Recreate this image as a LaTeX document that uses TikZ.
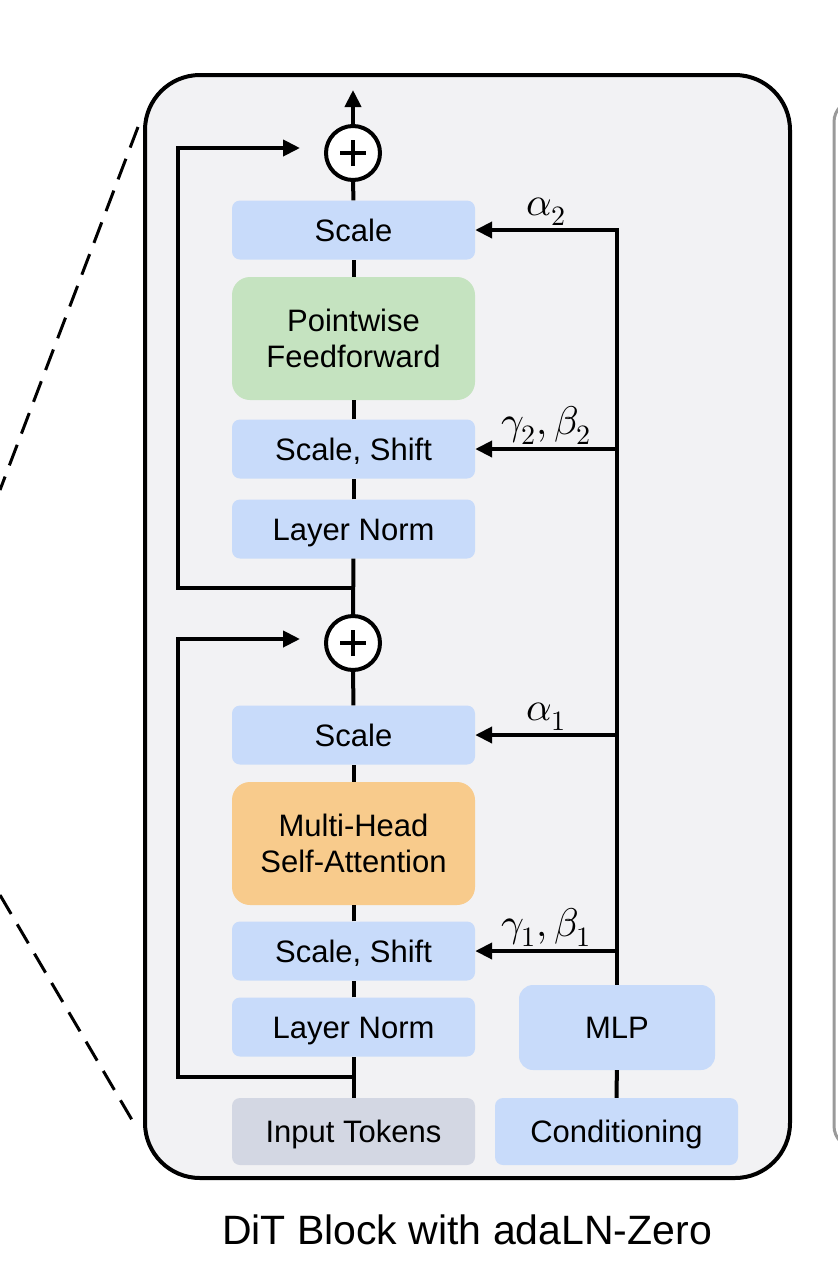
\documentclass[tikz,border=0pt]{standalone}
\usepackage{fontspec}
\usepackage{unicode-math}
\setmainfont{Liberation Sans}
\setmathfont{Latin Modern Math}
\usetikzlibrary{arrows.meta}
\definecolor{normblue}{HTML}{C8DBFA}
\definecolor{ffgreen}{HTML}{C5E3C0}
\definecolor{attnorange}{HTML}{F8CB8C}
\definecolor{tokgray}{HTML}{D3D7E3}
\definecolor{panel}{HTML}{F2F2F4}
\definecolor{edgegray}{HTML}{9A9A9A}
\begin{document}
\begin{tikzpicture}[x=1pt,y=-1pt,
    base/.style={fill=normblue,rounded corners=8pt,minimum width=243pt,minimum height=59pt,
      inner sep=0pt,align=center,font=\fontsize{31}{36}\selectfont},
    box/.style={base,text height=22pt,text depth=0pt},
    bigbox/.style={base,rounded corners=18pt,minimum height=123pt},
    wire/.style={line width=4pt},
    tip/.style={-{Triangle[length=17pt,width=16pt]}},
    lbl/.style={above,inner sep=3pt,font=\fontsize{40}{44}\selectfont},
    sum/.style={circle,draw,line width=4pt,fill=white,minimum size=54pt,inner sep=0pt,
      path picture={\draw[line width=4pt]
        (path picture bounding box.center) ++(-13pt,0) -- ++(26pt,0)
        (path picture bounding box.center) ++(0,-13pt) -- ++(0,26pt);}}]
    \useasboundingbox (0,0) rectangle (838,1278);
    % zoom lines and neighbouring panel
    \begin{scope}
      \clip (0,0) rectangle (838,1278);
      \draw[line width=3pt,dash pattern=on 22pt off 12pt] (138,127) -- (0,490);
      \draw[line width=3pt,dash pattern=on 22pt off 12pt] (0,895) -- (135,1125);
      \draw[edgegray,line width=3pt,rounded corners=22pt] (834,100) rectangle (920,1148);
    \end{scope}
    \draw[fill=panel,line width=4pt,rounded corners=55pt] (145,75) rectangle (790,1178);
    % blocks
    \node[sum] (plus2) at (353,153) {};
    \node[box] (sc2) at (353.5,230) {Scale};
    \node[bigbox,fill=ffgreen] (pf) at (353.5,338.5) {Pointwise\\Feedforward};
    \node[box] (ss2) at (353.5,449) {Scale, Shift};
    \node[box] (ln2) at (353.5,529) {Layer Norm};
    \node[sum] (plus1) at (353,643) {};
    \node[box] (sc1) at (353.5,735) {Scale};
    \node[bigbox,fill=attnorange] (mhsa) at (353.5,843.5) {Multi-Head\\Self-Attention};
    \node[box] (ss1) at (353.5,951) {Scale, Shift};
    \node[box] (ln1) at (353.5,1027) {Layer Norm};
    \node[box,fill=tokgray,minimum height=67pt] (inp) at (353.5,1131.5) {Input Tokens};
    \node[box,minimum height=67pt] (cond) at (616.5,1131.5) {Conditioning};
    \node[box,rounded corners=14pt,minimum width=196pt,minimum height=85pt] (mlp) at (617,1027.5) {MLP};
    \node (cap) at (467,1230) {\fontsize{41}{46}\selectfont DiT Block with adaLN-Zero};
    \coordinate (out) at (353,90);
    \coordinate (j2) at (353,588);
    \coordinate (j1) at (353,1077);
    \coordinate (r2) at (300,148);
    \coordinate (r1) at (300,639);
    \coordinate (a2) at (617,230);
    \coordinate (g2) at (617,449);
    \coordinate (a1) at (617,735);
    \coordinate (g1) at (617,951);
    % main path
    \draw[wire] (inp) -- (ln1);
    \draw[wire] (ln1) -- (ss1);
    \draw[wire] (ss1) -- (mhsa);
    \draw[wire] (mhsa) -- (sc1);
    \draw[wire] (sc1) -- (plus1);
    \draw[wire] (plus1) -- (ln2);
    \draw[wire] (ln2) -- (ss2);
    \draw[wire] (ss2) -- (pf);
    \draw[wire] (pf) -- (sc2);
    \draw[wire] (sc2) -- (plus2);
    \draw[wire,tip] (plus2) -- (out);
    % residuals
    \draw[wire,tip] (j1) -- (178,1077) |- (r1);
    \draw[wire,tip] (j2) -- (178,588) |- (r2);
    % conditioning
    \draw[wire] (cond) -- (mlp);
    \draw[wire,tip] (mlp) -- (a2) -- node[lbl] {$\alpha_2$} (sc2);
    \draw[wire,tip] (g2) -- node[lbl] {$\gamma_2,\beta_2$} (ss2);
    \draw[wire,tip] (a1) -- node[lbl] {$\alpha_1$} (sc1);
    \draw[wire,tip] (g1) -- node[lbl] {$\gamma_1,\beta_1$} (ss1);
  \end{tikzpicture}
\end{document}
